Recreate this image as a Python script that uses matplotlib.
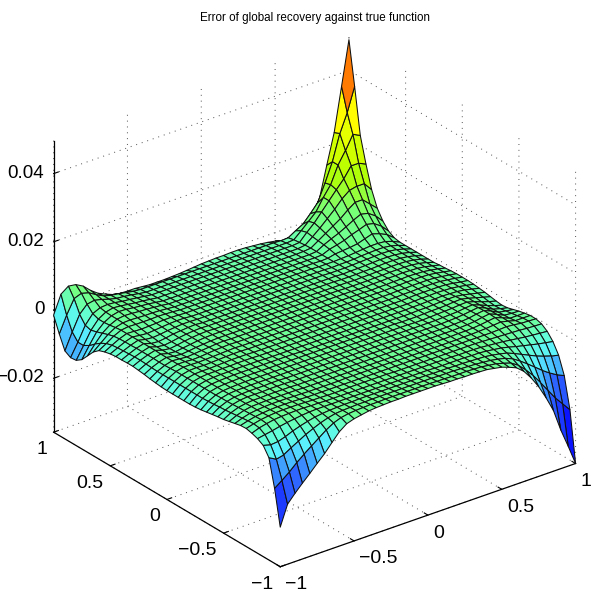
import numpy as np
import matplotlib
matplotlib.use("Agg")
import matplotlib.pyplot as plt
from matplotlib.colors import LinearSegmentedColormap, Normalize

TITLE = "Error of global recovery against true function"
xy_ticks = [-1, -0.5, 0, 0.5, 1]
xy_labels = ["\u22121", "\u22120.5", "0", "0.5", "1"]
z_ticks = [-0.02, 0, 0.02, 0.04]
z_labels = ["\u22120.02", "0", "0.02", "0.04"]

# surface heights, in units of 1e-4; one row per y, from y=-1 to y=1
z_left = [
[-242,-182,-158,-136,-115,-93,-72,-47,-23,-7,0],
[-138,-122,-105,-85,-68,-52,-36,-20,-7,1,5],
[-58,-70,-65,-52,-40,-28,-18,-9,-2,3,5],
[-32,-38,-36,-29,-20,-13,-7,-2,1,3,4],
[-22,-18,-14,-9,-5,-2,1,3,4,4,4],
[-16,-8,-3,1,3,4,5,5,4,4,3],
[-12,-6,-1,2,4,5,5,5,4,3,3],
[-13,-7,-2,1,3,4,4,4,3,2,2],
[-17,-9,-3,0,2,3,3,3,2,2,1],
[-21,-11,-4,0,1,2,2,2,2,2,1],
[-25,-13,-5,-1,1,1,2,2,2,2,1],
[-27,-15,-6,-1,1,1,1,2,2,2,1],
[-30,-16,-7,-2,0,1,1,1,2,2,1],
[-33,-18,-7,-2,0,0,1,1,1,1,1],
[-36,-19,-8,-3,-1,0,1,1,1,1,1],
[-38,-20,-8,-3,-1,0,1,1,1,1,1],
[-39,-20,-8,-3,-1,0,1,1,1,1,1],
[-39,-20,-8,-3,-1,0,0,1,1,1,1],
[-39,-20,-8,-3,-1,-1,0,0,1,1,1],
[-39,-20,-8,-3,-2,-2,-1,0,1,1,1],
[-39,-20,-8,-3,-2,-3,-2,-1,0,1,1],
[-38,-20,-8,-3,-3,-4,-3,-2,-1,0,1],
[-36,-20,-9,-4,-4,-6,-5,-3,-1,0,1],
[-34,-20,-10,-4,-6,-8,-6,-4,-2,0,1],
[-31,-19,-10,-4,-8,-10,-8,-5,-3,-1,0],
[-29,-18,-9,-4,-10,-12,-9,-6,-3,-1,0],
[-27,-17,-9,-3,-10,-13,-10,-6,-3,-1,0],
[-27,-17,-9,-3,-10,-13,-10,-6,-3,-1,0],
[-28,-18,-9,-3,-10,-12,-9,-5,-3,-1,0],
[-28,-19,-10,-3,-8,-10,-8,-5,-3,-1,-1],
[-30,-20,-10,-3,-6,-8,-6,-4,-2,-1,-1],
[-34,-22,-11,-3,-4,-5,-4,-3,-1,-1,-2],
[-40,-27,-13,-3,0,-1,-1,-1,0,-1,-2],
[-54,-36,-18,-5,1,2,1,0,0,-1,-3],
[-75,-48,-24,-8,2,5,4,2,1,-1,-3],
[-96,-62,-30,-10,2,7,6,3,1,-1,-4],
[-108,-72,-35,-10,3,8,6,3,0,-2,-5],
[-110,-72,-30,-4,6,8,6,2,0,-3,-6],
[-100,-52,-8,14,18,13,6,1,-1,-4,-8],
[-60,-12,28,36,30,17,6,0,-3,-7,-11],
[-15,39,55,52,40,20,4,-6,-15,-19,-20],
]
z_mid = [
[4,8,10,11,12,12,13,13,13,13,13,12,11,11,10,10,9,8,4],
[7,8,9,9,10,10,10,10,10,10,10,9,9,8,8,8,7,6,3],
[6,7,7,8,8,8,8,8,8,8,8,8,7,7,7,6,5,4,2],
[5,5,6,6,6,6,6,6,6,6,6,6,5,5,5,4,4,3,2],
[4,4,4,4,4,4,4,4,4,4,4,4,4,3,3,3,3,3,2],
[3,3,3,3,3,3,3,3,3,3,3,3,3,3,3,3,3,2,2],
[2,2,2,3,3,3,3,3,3,2,2,2,2,2,2,2,2,2,2],
[2,2,2,2,2,2,2,2,2,2,2,2,2,2,2,2,2,2,2],
[1,1,1,1,2,2,2,2,2,2,2,1,1,1,1,1,1,1,1],
[1,1,1,1,1,1,1,1,1,1,1,1,1,1,1,1,1,1,1],
[1,1,1,1,1,1,1,1,1,1,1,1,1,1,1,1,1,1,1],
[1,1,1,1,1,1,1,1,1,1,1,1,1,1,1,1,1,1,1],
[1,1,1,1,1,1,1,1,1,1,1,1,1,1,1,1,1,1,1],
[1,1,1,1,1,1,1,1,1,1,1,1,1,1,1,1,1,1,1],
[1,1,1,1,1,1,1,1,1,1,1,1,1,1,1,1,1,1,0],
[1,1,1,1,1,1,1,1,1,1,1,1,1,1,1,1,1,0,0],
[1,1,1,1,0,0,0,0,0,0,0,0,0,0,0,0,0,0,0],
[0,0,0,0,0,0,0,0,0,0,0,0,0,0,0,0,0,0,0],
[0,0,0,0,0,0,0,0,0,0,0,0,0,0,0,0,0,0,0],
[0,0,0,0,0,0,0,0,0,0,0,0,0,0,0,0,0,0,0],
[0,0,0,0,0,0,0,0,0,0,0,0,0,0,0,0,0,0,0],
[0,0,0,0,0,0,0,0,0,0,0,0,0,0,0,0,0,0,0],
[0,0,0,0,0,0,0,0,0,0,0,0,0,0,0,0,0,0,0],
[0,0,0,0,0,0,0,0,0,0,0,0,0,0,0,0,0,0,0],
[0,0,0,0,0,0,0,0,0,0,0,0,0,0,0,0,0,0,-1],
[0,0,0,0,0,0,0,0,0,0,0,0,0,0,0,0,0,-1,-1],
[-1,-1,-1,-1,-1,-1,-1,-1,-1,-1,-1,-1,-1,-1,-1,-1,-1,-1,-1],
[-1,-1,-1,-1,-1,-1,-1,-1,-1,-1,-1,-1,-1,-1,-1,-1,-1,-1,-2],
[-2,-2,-2,-2,-2,-2,-2,-2,-2,-2,-2,-2,-2,-2,-2,-2,-2,-2,-2],
[-2,-2,-2,-2,-2,-2,-2,-2,-2,-2,-2,-2,-2,-2,-2,-2,-2,-2,-3],
[-3,-3,-3,-3,-3,-3,-3,-3,-3,-3,-3,-3,-3,-3,-3,-3,-3,-3,-3],
[-3,-3,-3,-3,-3,-3,-3,-3,-3,-3,-3,-3,-3,-3,-3,-3,-3,-3,-4],
[-4,-4,-4,-4,-4,-4,-4,-4,-4,-4,-4,-4,-4,-4,-4,-4,-4,-4,-4],
[-5,-5,-5,-5,-5,-5,-5,-5,-5,-5,-5,-5,-5,-5,-5,-5,-5,-5,-5],
[-6,-6,-6,-6,-6,-6,-6,-6,-6,-6,-6,-6,-6,-6,-6,-6,-6,-6,-6],
[-7,-7,-7,-7,-7,-7,-7,-7,-7,-7,-7,-7,-7,-7,-7,-7,-7,-7,-7],
[-8,-8,-8,-8,-8,-8,-8,-8,-8,-8,-8,-8,-8,-8,-8,-8,-8,-8,-8],
[-9,-9,-9,-9,-9,-9,-9,-9,-9,-9,-9,-9,-9,-9,-9,-9,-9,-9,-9],
[-11,-11,-11,-11,-11,-11,-11,-11,-11,-11,-11,-11,-11,-11,-11,-11,-11,-11,-11],
[-13,-13,-13,-13,-13,-13,-13,-13,-13,-13,-13,-13,-13,-13,-13,-13,-13,-13,-13],
[-20,-22,-24,-24,-24,-23,-22,-20,-18,-16,-15,-14,-14,-13,-13,-14,-16,-18,-21],
]
z_right = [
[0,-8,-17,-35,-62,-95,-135,-180,-245,-300,-358],
[0,-6,-13,-27,-48,-72,-100,-130,-160,-185,-210],
[0,-4,-9,-18,-32,-48,-65,-82,-97,-110,-120],
[1,-2,-6,-11,-20,-30,-40,-50,-58,-65,-70],
[2,0,-3,-6,-11,-17,-22,-27,-32,-36,-40],
[2,1,-1,-3,-5,-8,-11,-14,-16,-18,-20],
[2,2,1,0,-1,-2,-3,-4,-6,-7,-8],
[2,2,2,2,2,3,4,2,-1,-2,-3],
[1,2,2,3,4,6,8,3,-3,-3,-3],
[1,2,2,3,5,8,11,3,-6,-6,-6],
[1,1,2,3,5,9,12,3,-7,-9,-10],
[1,1,2,3,5,9,12,3,-8,-12,-15],
[1,1,2,3,5,8,11,2,-9,-15,-20],
[1,1,2,3,4,7,9,1,-8,-16,-22],
[0,1,2,3,4,6,7,1,-7,-14,-20],
[0,1,2,2,3,5,6,1,-5,-11,-17],
[0,1,1,2,3,4,4,1,-4,-9,-14],
[0,1,1,2,2,3,2,1,-2,-7,-12],
[0,0,1,2,2,3,2,1,-2,-6,-10],
[0,0,1,2,2,2,2,1,-2,-6,-9],
[0,0,1,1,2,2,2,1,-2,-5,-9],
[0,0,1,1,2,2,2,1,-2,-5,-9],
[0,0,1,1,2,2,2,1,-2,-6,-10],
[-1,0,0,1,1,2,1,0,-3,-7,-12],
[-1,0,0,1,1,2,1,0,-3,-8,-13],
[-1,-1,0,0,1,1,1,0,-3,-8,-15],
[-2,-1,-1,0,0,1,1,0,-3,-8,-15],
[-2,-2,-1,-1,0,1,1,0,-3,-8,-15],
[-3,-2,-2,-1,0,1,1,0,-3,-8,-15],
[-3,-3,-2,-1,0,1,2,1,-2,-8,-15],
[-4,-3,-3,-2,0,1,2,2,-1,-7,-15],
[-4,-4,-3,-2,0,2,4,4,2,-5,-15],
[-5,-4,1,3,5,8,15,22,15,5,-12],
[-5,-4,5,10,16,25,32,40,35,20,-2],
[-6,-4,8,18,27,38,50,60,55,40,17],
[-6,-4,10,24,38,52,70,85,85,65,45],
[-8,-5,12,30,50,70,93,110,115,115,90],
[-9,-7,15,35,60,85,110,134,165,165,155],
[-11,-9,10,30,50,85,115,165,200,240,229],
[-14,-13,0,12,35,60,110,165,240,294,363],
[-25,-32,-41,-30,-10,17,54,145,233,361,490],
]

# colours seen on the surface at given heights
color_heights = [-0.0358, -0.030, -0.024, -0.016, -0.011, -0.007, -0.003, 0.0, 0.005, 0.012, 0.020, 0.024, 0.0295, 0.049]
color_values = ["#0000ff", "#0a14ff", "#1e3cff", "#2d64ff", "#46b4ff", "#5af0ff", "#64ffd2",
                "#6eff96", "#78ff78", "#b4ff00", "#e6ff00", "#ffff00", "#ff7800", "#ff0000"]

plt.rcParams["font.family"] = ["Liberation Sans", "DejaVu Sans"]
plt.rcParams["grid.linestyle"] = (0, (1, 5))
plt.rcParams["grid.color"] = "#505050"
plt.rcParams["grid.linewidth"] = 0.7
plt.rcParams["axes.linewidth"] = 0.9

Z = np.hstack([np.array(z_left), np.array(z_mid), np.array(z_right)]) * 1e-4
grid = np.linspace(-1, 1, Z.shape[1])
X, Y = np.meshgrid(grid, grid)
zmin, zmax = -0.0358, 0.0497

norm = Normalize(Z.min(), Z.max())
stops = [(norm(h), c) for h, c in zip(color_heights, color_values)]
cmap = LinearSegmentedColormap.from_list("surf", stops, N=512)

fig = plt.figure(figsize=(5.99, 5.99), dpi=100)
ax = fig.add_axes([7 / 599, -10.6 / 599, 1, 1], projection="3d", proj_type="ortho")
ax.set_box_aspect((1, 1, 0.88), zoom=1.005)
ax.view_init(elev=27.1, azim=-127.5)
ax.plot_surface(X, Y, Z, rstride=1, cstride=1, facecolors=cmap(norm(Z)), shade=False,
                edgecolor="#101010", linewidth=0.75, antialiased=True)

ax.set_xlim(-1, 1, view_margin=0)
ax.set_ylim(-1, 1, view_margin=0)
ax.set_zlim(zmin, zmax, view_margin=0)
ax.set_xticks(xy_ticks)
ax.set_xticklabels(xy_labels, fontsize=14, ha="left")
ax.set_yticks(xy_ticks)
ax.set_yticklabels(xy_labels, fontsize=14, ha="right")
ax.set_zticks(z_ticks)
ax.set_zticklabels(z_labels, fontsize=13.5, ha="right", va="center")
for axis in (ax.xaxis, ax.yaxis, ax.zaxis):
    axis.set_pane_color((1, 1, 1, 0))
    axis.pane.set_edgecolor((1, 1, 1, 0))
    axis.line.set_color("black")
    axis.line.set_linewidth(0.9)
    axis._axinfo["tick"]["inward_factor"] = 0.0
    axis._axinfo["tick"]["outward_factor"] = 0.2
    axis._axinfo["tick"]["linewidth"] = {True: 0.8, False: 0.5}
ax.zaxis.set_ticks_position("upper")
ax.tick_params(axis="x", pad=-3)
ax.tick_params(axis="y", pad=-3)
ax.tick_params(axis="z", pad=-4)

ax.set_title(TITLE, x=(315 - 7) / 599, y=(609.6 - 21) / 599 + 0.085, pad=0, fontsize=8.35)
fig.savefig("out.png", dpi=100, facecolor="white")
